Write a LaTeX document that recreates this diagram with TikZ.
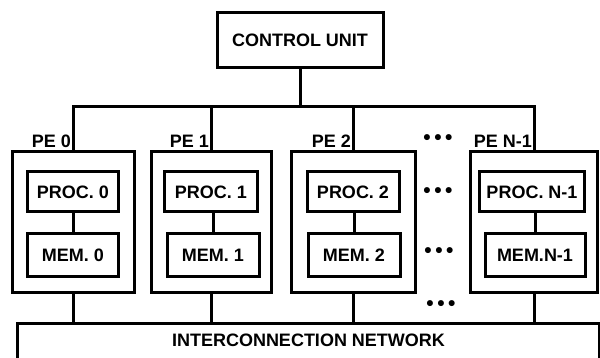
\documentclass[tikz,border=0pt]{standalone}
\usepackage{fontspec}
\setmainfont{Liberation Sans}
\usepackage{tikz}
\usetikzlibrary{positioning}

\begin{document}
\begin{tikzpicture}[
    x=1pt, y=-1pt,
    box_style/.style={draw, line width=3pt, inner sep=0pt, font=\fontsize{18}{20}\selectfont\bfseries},
    pe_style/.style={draw, line width=3pt, minimum height=141pt},
    proc_style/.style={box_style, minimum height=40pt},
    mem_style/.style={box_style, minimum height=43pt},
    link_style/.style={line width=3pt},
    label_style/.style={font=\fontsize{18}{20}\selectfont\bfseries, inner sep=1pt},
    dots_style/.style={font=\fontsize{21}{22}\selectfont\bfseries, inner sep=0pt}
]
    \useasboundingbox (0,0) rectangle (600,358);
    \clip (0,0) rectangle (600,358);

    % Coordinates
    \coordinate (top_bus) at (300,107);

    % Control unit
    \node[box_style, minimum width=166pt, minimum height=55pt] (cu) at (300,40) {CONTROL UNIT};

    % Processing elements
    \node[pe_style, minimum width=122pt] (pe0) at (73,222) {};
    \node[pe_style, minimum width=120pt] (pe1) at (211,222) {};
    \node[pe_style, minimum width=124pt] (pe2) at (353,222) {};
    \node[pe_style, minimum width=127pt] (pen) at (534,222) {};

    \node[label_style, anchor=south east] (pe0_lbl) at ([xshift=-1pt, yshift=1pt]pe0.north) {PE 0};
    \node[label_style, anchor=south east] (pe1_lbl) at ([xshift=-1pt, yshift=1pt]pe1.north) {PE 1};
    \node[label_style, anchor=south east] (pe2_lbl) at ([xshift=-1pt, yshift=1pt]pe2.north) {PE 2};
    \node[label_style, anchor=south east] (pen_lbl) at ([xshift=-1pt, yshift=1pt]pen.north) {PE N-1};

    % Processors and memories
    \node[proc_style, minimum width=91pt] (proc0) at (73,192) {PROC. 0};
    \node[mem_style, minimum width=91pt] (mem0) at (73,255) {MEM. 0};
    \node[proc_style, minimum width=93pt] (proc1) at (211,192) {PROC. 1};
    \node[mem_style, minimum width=92pt] (mem1) at (213,255) {MEM. 1};
    \node[proc_style, minimum width=92pt] (proc2) at (353,192) {PROC. 2};
    \node[mem_style, minimum width=92pt] (mem2) at (354,255) {MEM. 2};
    \node[proc_style, minimum width=105pt] (procn) at (532,192) {PROC. N-1};
    \node[mem_style, minimum width=100pt] (memn) at (535,255) {MEM.N-1};

    % Interconnection network
    \node[box_style, minimum width=582pt, minimum height=42pt, text depth=8pt, anchor=north west] (net) at (16,322) {INTERCONNECTION NETWORK};

    % Dots
    \node[dots_style] (dots_top) at (438,140) {\textbullet\,\textbullet\,\textbullet};
    \node[dots_style] (dots_proc) at (438,193) {\textbullet\,\textbullet\,\textbullet};
    \node[dots_style] (dots_mem) at (439,253) {\textbullet\,\textbullet\,\textbullet};
    \node[dots_style] (dots_net) at (441,306) {\textbullet\,\textbullet\,\textbullet};

    % Links
    \draw[link_style] (cu.south) -- (cu.south |- top_bus);
    \draw[link_style] (pe0.north) |- (top_bus) -| (pen.north);
    \draw[link_style] (pe1.north) -- (pe1.north |- top_bus);
    \draw[link_style] (pe2.north) -- (pe2.north |- top_bus);

    \draw[link_style] (proc0) -- (mem0);
    \draw[link_style] (proc1.south -| mem1) -- (mem1);
    \draw[link_style] (proc2.south -| mem2) -- (mem2);
    \draw[link_style] (procn.south -| memn) -- (memn);

    \draw[link_style] (pe0.south) -- (pe0.south |- net.north);
    \draw[link_style] (pe1.south) -- (pe1.south |- net.north);
    \draw[link_style] (pe2.south) -- (pe2.south |- net.north);
    \draw[link_style] (pen.south) -- (pen.south |- net.north);
\end{tikzpicture}
\end{document}
